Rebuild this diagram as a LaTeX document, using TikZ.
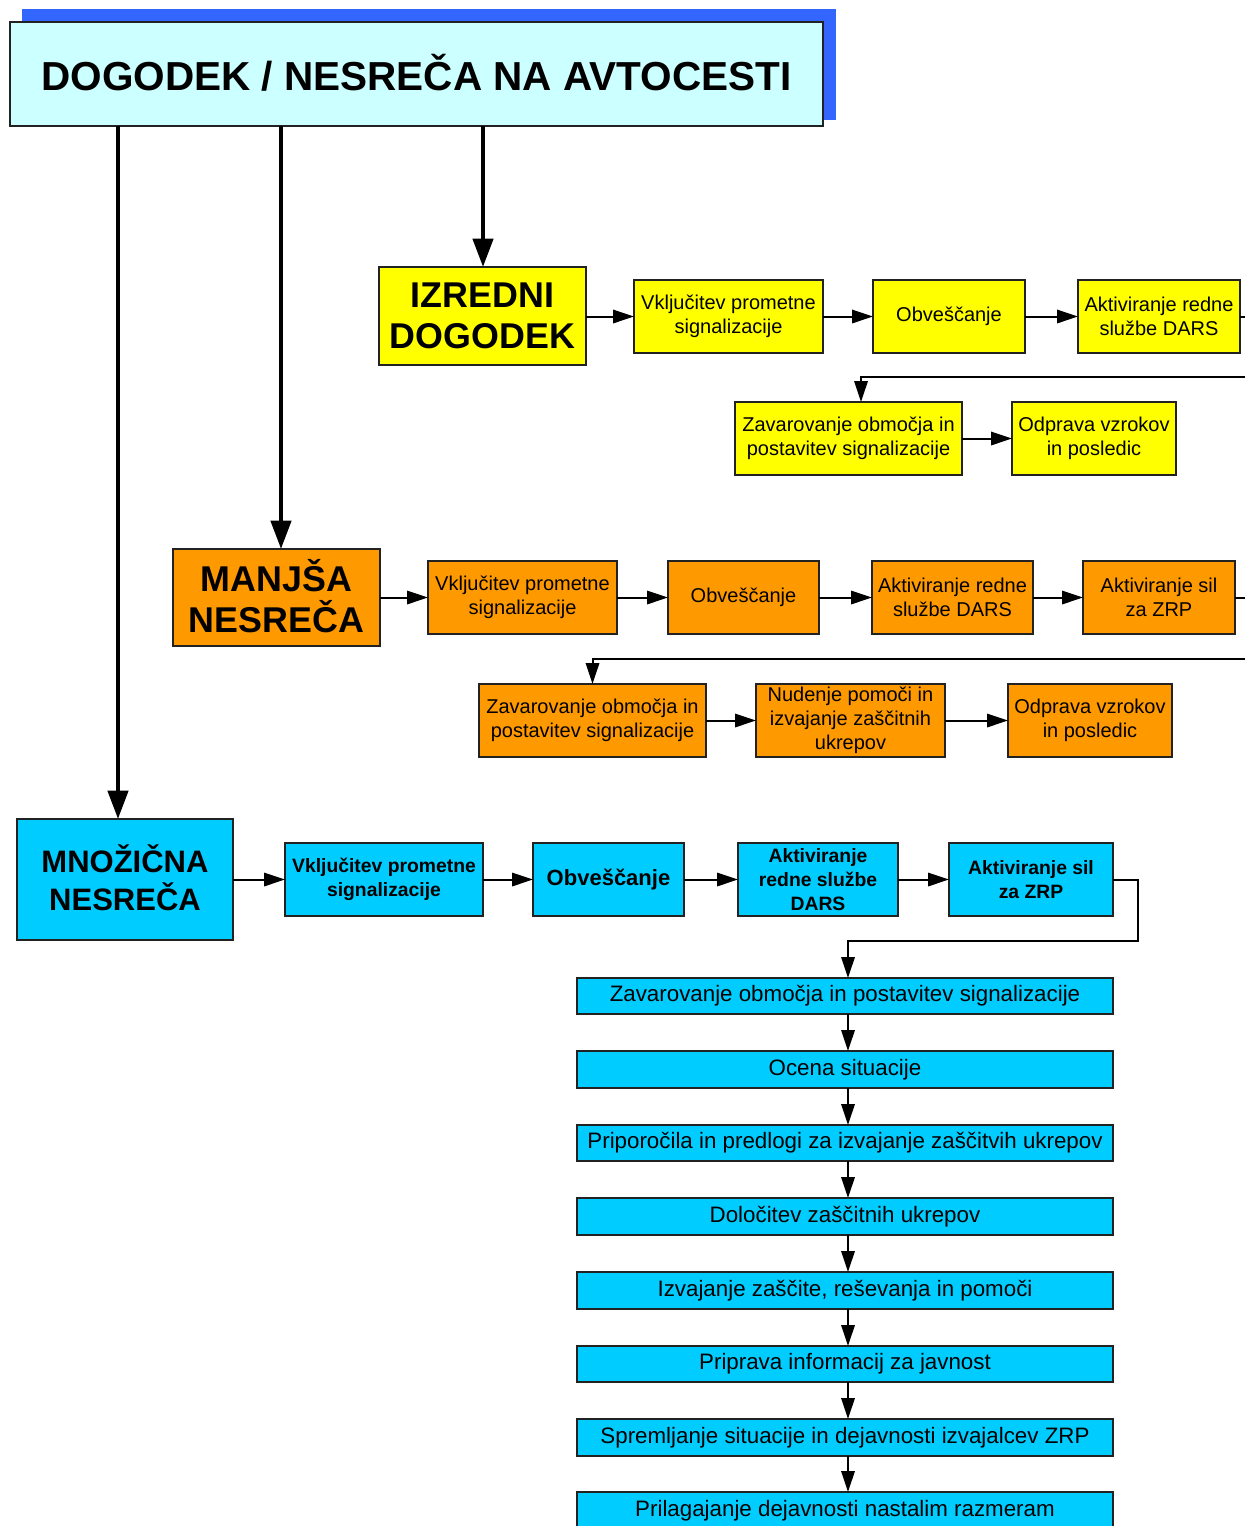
\documentclass[tikz,border=0pt]{standalone}
\usepackage{fontspec}
\setmainfont{Liberation Sans}
\usetikzlibrary{arrows.meta}
\definecolor{ylw}{HTML}{FFFF00}
\definecolor{org}{HTML}{FF9900}
\definecolor{cyn}{HTML}{00CCFF}
\definecolor{lcyn}{HTML}{CCFFFF}
\definecolor{shd}{HTML}{3366FF}
\definecolor{edge}{HTML}{222222}
\newcommand\bx[7]{%
  \pgfmathsetmacro\bw{(#4-#2)*0.6}%
  \pgfmathsetmacro\bh{(#5-#3)*0.6}%
  \node[#6,minimum width=\bw pt,minimum height=\bh pt] (#1) at ({(#2+#4)/2},{(#3+#5)/2}) {#7};}
\tikzset{
  boxbase/.style={draw=edge,line width=0.8pt,inner sep=0pt,outer sep=0pt,align=center,font=\fontsize{12}{14.4}\selectfont},
  ybox/.style={boxbase,fill=ylw},
  obox/.style={boxbase,fill=org},
  cbox/.style={boxbase,fill=cyn},
  lbox/.style={cbox,font=\fontsize{13.4}{16}\selectfont},
  cboxb/.style={cbox,font=\fontsize{11.6}{14.2}\selectfont\bfseries},
  bigtxt/.style={font=\fontsize{21.5}{25}\selectfont\bfseries},
  arr/.style={line width=1.2pt,-{Triangle[length=12.5pt,width=8pt]}},
  ln/.style={line width=1.2pt},
  thickarr/.style={line width=2.6pt,-{Triangle[length=17pt,width=12pt]}}
}
\begin{document}
\begin{tikzpicture}[x=0.6pt,y=-0.6pt]
\useasboundingbox[fill=white] (0,0) rectangle (1245,1526);
% header
\fill[shd] (22,9) rectangle (836,120);
\bx{head}{10}{22}{823}{126}{boxbase,fill=lcyn,font=\fontsize{24.3}{28}\selectfont\bfseries}{\raisebox{2.5pt}{DOGODEK / NESREČA NA AVTOCESTI}}
% main category boxes
\bx{izr}{379}{267}{586}{365}{ybox,bigtxt}{IZREDNI\\DOGODEK}
\bx{man}{173}{549}{380}{646}{obox,bigtxt}{\raisebox{2pt}{MANJŠA}\\\raisebox{2pt}{NESREČA}}
\bx{mno}{17}{819}{233}{940}{cbox,font=\fontsize{18.6}{23}\selectfont\bfseries}{\raisebox{2.5pt}{MNOŽIČNA}\\\raisebox{2.5pt}{NESREČA}}
% coordinates for thick arrows
\coordinate (xa) at (118,0);
\coordinate (xb) at (281,0);
\coordinate (xc) at (483,0);
\draw[thickarr] (head.south -| xa) -- (mno.north -| xa);
\draw[thickarr] (head.south -| xb) -- (man.north -| xb);
\draw[thickarr] (head.south -| xc) -- (izr.north -| xc);
% yellow row
\bx{y1}{634}{280}{823}{353}{ybox}{Vključitev prometne\\signalizacije}
\bx{y2}{873}{280}{1025}{353}{ybox}{Obveščanje}
\bx{y3}{1078}{280}{1240}{353}{ybox}{Aktiviranje redne\\službe DARS}
\bx{y4}{735}{402}{962}{475}{ybox}{Zavarovanje območja in\\postavitev signalizacije}
\bx{y5}{1012}{402}{1176}{475}{ybox}{Odprava vzrokov\\in posledic}
\draw[arr] (izr.east |- y1.west) -- (y1.west);
\draw[arr] (y1.east) -- (y2.west);
\draw[arr] (y2.east) -- (y3.west);
\coordinate (ye) at (1245,316.5);
\draw[ln] (y3.east) -- (ye);
\coordinate (yr) at (1245,377);
\coordinate (yt) at (861,0);
\draw[arr] (yr) -| (y4.north -| yt);
\draw[arr] (y4.east) -- (y5.west);
% orange row
\bx{o1}{428}{561}{617}{634}{obox}{Vključitev prometne\\signalizacije}
\bx{o2}{668}{561}{819}{634}{obox}{Obveščanje}
\bx{o3}{872}{561}{1033}{634}{obox}{Aktiviranje redne\\službe DARS}
\bx{o4}{1083}{561}{1235}{634}{obox}{Aktiviranje sil\\za ZRP}
\bx{o5}{479}{684}{706}{757}{obox}{Zavarovanje območja in\\postavitev signalizacije}
\bx{o6}{756}{684}{945}{757}{obox}{Nudenje pomoči in\\izvajanje zaščitnih\\ukrepov}
\bx{o7}{1008}{684}{1172}{757}{obox}{Odprava vzrokov\\in posledic}
\draw[arr] (man.east |- o1.west) -- (o1.west);
\draw[arr] (o1.east) -- (o2.west);
\draw[arr] (o2.east) -- (o3.west);
\draw[arr] (o3.east) -- (o4.west);
\coordinate (oe) at (1245,597.5);
\draw[ln] (o4.east) -- (oe);
\coordinate (or) at (1245,659);
\draw[arr] (or) -| (o5.north);
\draw[arr] (o5.east) -- (o6.west);
\draw[arr] (o6.east) -- (o7.west);
% blue row
\bx{c1}{285}{843}{483}{916}{cboxb}{Vključitev prometne\\signalizacije}
\bx{c2}{533}{843}{684}{916}{cbox,font=\fontsize{13.2}{16}\selectfont\bfseries}{Obveščanje}
\bx{c3}{738}{843}{898}{916}{cboxb}{Aktiviranje\\redne službe\\DARS}
\bx{c4}{949}{843}{1113}{916}{cboxb}{Aktiviranje sil\\za ZRP}
\draw[arr] (mno.east |- c1.west) -- (c1.west);
\draw[arr] (c1.east) -- (c2.west);
\draw[arr] (c2.east) -- (c3.west);
\draw[arr] (c3.east) -- (c4.west);
% vertical list
\bx{l1}{577}{978}{1113}{1014}{lbox}{Zavarovanje območja in postavitev signalizacije}
\bx{l2}{577}{1051}{1113}{1088}{lbox}{Ocena situacije}
\bx{l3}{577}{1125}{1113}{1161}{lbox}{Priporočila in predlogi za izvajanje zaščitvih ukrepov}
\bx{l4}{577}{1198}{1113}{1235}{lbox}{Določitev zaščitnih ukrepov}
\bx{l5}{577}{1272}{1113}{1309}{lbox}{Izvajanje zaščite, reševanja in pomoči}
\bx{l6}{577}{1346}{1113}{1382}{lbox}{Priprava informacij za javnost}
\bx{l7}{577}{1419}{1113}{1456}{lbox}{Spremljanje situacije in dejavnosti izvajalcev ZRP}
\bx{l8}{577}{1492}{1113}{1530}{lbox}{Prilagajanje dejavnosti nastalim razmeram}
\coordinate (lx) at (848,0);
\coordinate (cr) at (1138,941);
\draw[arr] (c4.east) -| (cr) -| (l1.north -| lx);
\foreach \a/\b in {l1/l2,l2/l3,l3/l4,l4/l5,l5/l6,l6/l7,l7/l8}
  \draw[arr] (\a.south -| lx) -- (\b.north -| lx);
\end{tikzpicture}
\end{document}
